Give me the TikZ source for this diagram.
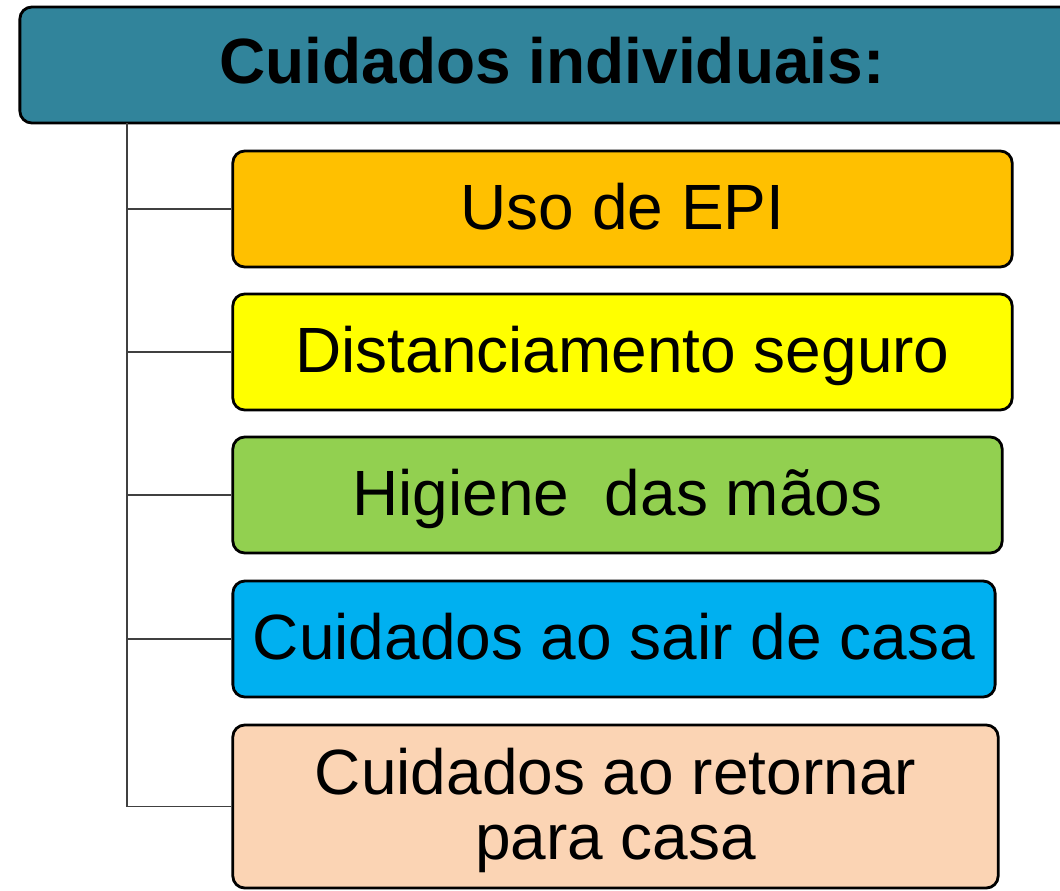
\documentclass[tikz,border=0pt]{standalone}
\usepackage{fontspec}
\setmainfont{Liberation Sans}
\definecolor{titleteal}{HTML}{31849B}
\definecolor{epiorange}{HTML}{FFC000}
\definecolor{distyellow}{HTML}{FFFF00}
\definecolor{maosgreen}{HTML}{92D050}
\definecolor{sairblue}{HTML}{00B0F0}
\definecolor{retornopeach}{HTML}{FBD4B4}

\begin{document}
\begin{tikzpicture}[x=0.025cm,y=-0.025cm,
    itembox/.style={draw=black,line width=2pt,rounded corners=0.3cm,inner sep=0pt,
      minimum height=2.9cm,text height=32.6pt,text depth=3.6pt,
      font=\fontsize{45.5}{46}\selectfont},
    branch/.style={draw=black!75,line width=1.4pt},]

    \useasboundingbox (0,0) rectangle (1060,890);
    \clip (0,0) rectangle (1060,890);

    \node[itembox,fill=titleteal,minimum width=26.6cm,text depth=6.4pt,
      font=\fontsize{45.5}{46}\selectfont\bfseries] (title) at (552,65)
      {Cuidados individuais:};

    \node[itembox,fill=epiorange,minimum width=19.48cm] (epi) at (622.5,209)
      {Uso de EPI};

    \node[itembox,fill=distyellow,minimum width=19.48cm] (dist) at (622.5,352)
      {Distanciamento seguro};

    \node[itembox,fill=maosgreen,minimum width=19.23cm] (maos) at (617.5,495)
      {Higiene\ \ das mãos};

    \node[itembox,fill=sairblue,minimum width=19.05cm] (sair) at (614,639)
      {Cuidados ao sair de casa};

    \node[itembox,fill=retornopeach,minimum width=19.13cm,minimum height=4.075cm,
      text height=84.3pt,text depth=9.5pt,align=center] (retorno) at (615.5,806.5)
      {Cuidados ao retornar \\ para casa};

    \coordinate (trunk) at (127,123);

    \draw[branch] (trunk) |- (retorno.west);

    \foreach \item in {epi,dist,maos,sair}
      \draw[branch] (trunk |- \item.west) -- (\item.west);

  \end{tikzpicture}
\end{document}
